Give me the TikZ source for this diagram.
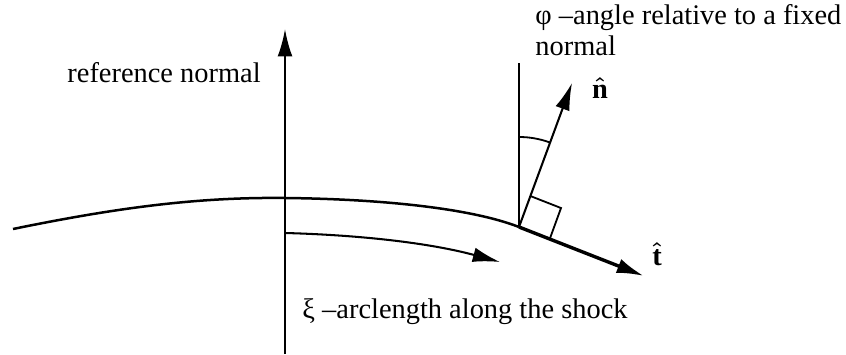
\documentclass[tikz,border=0pt]{standalone}
\usepackage{fontspec}
\setmainfont{Liberation Serif}
\usepackage{tikz}
\usetikzlibrary{arrows.meta, calc}

\begin{document}
\begin{tikzpicture}[x=0.44pt, y=0.44pt,
    vec/.style={line width=0.9pt, -{Latex[length=12pt, width=6.5pt]}},
    thinline/.style={line width=0.8pt},
    lbl/.style={inner sep=0pt, font=\fontsize{12.5}{13.8}\selectfont},
    hatlbl/.style={inner sep=0pt, font=\fontsize{12.5}{13.8}\selectfont\boldmath}]
    \useasboundingbox (0,0) rectangle (846,354);
    \coordinate (O) at (285,156);
    \coordinate (Ob) at (285,0);
    \coordinate (Ot) at (285,325);
    \coordinate (L) at (13,125);
    \coordinate (P) at (519,127);
    \coordinate (T) at (644,78);
    \coordinate (N) at (572,271);
    \coordinate (V) at (519,291);
    \coordinate (S0) at (285,121);
    \coordinate (S1) at (500,92);
    \draw[vec] (Ob) -- (Ot);
    \draw[line width=1.1pt] (L) .. controls (120,147) and (200,157) .. (O)
        .. controls (380,155) and (470,146) .. (P);
    \draw[vec, line width=1.5pt] (P) -- (T);
    \draw[vec] (P) -- (N);
    \draw[thinline] (P) -- (V);
    \draw[thinline] ($(P)+(90:90)$) arc (90:70:90);
    \draw[thinline] ($(P)+(70:33)$) -- ++(-21.4:33) -- ($(P)+(-21.4:33)$);
    \draw[vec] (S0) .. controls (360,119) and (430,111) .. (S1);
    \node[lbl, anchor=base west] (refn) at (67,271) {reference normal};
    \node[lbl, anchor=north west, align=left] (phi) at (535,350)
        {φ –angle relative to a fixed\\normal};
    \node[lbl, anchor=base west] (xi) at (302,36) {ξ –arclength along the shock};
    \node[hatlbl] (nhat) at (600,266) {$\hat{\textbf{n}}$};
    \node[hatlbl] (that) at (657,100) {$\hat{\textbf{t}}$};
\end{tikzpicture}
\end{document}
